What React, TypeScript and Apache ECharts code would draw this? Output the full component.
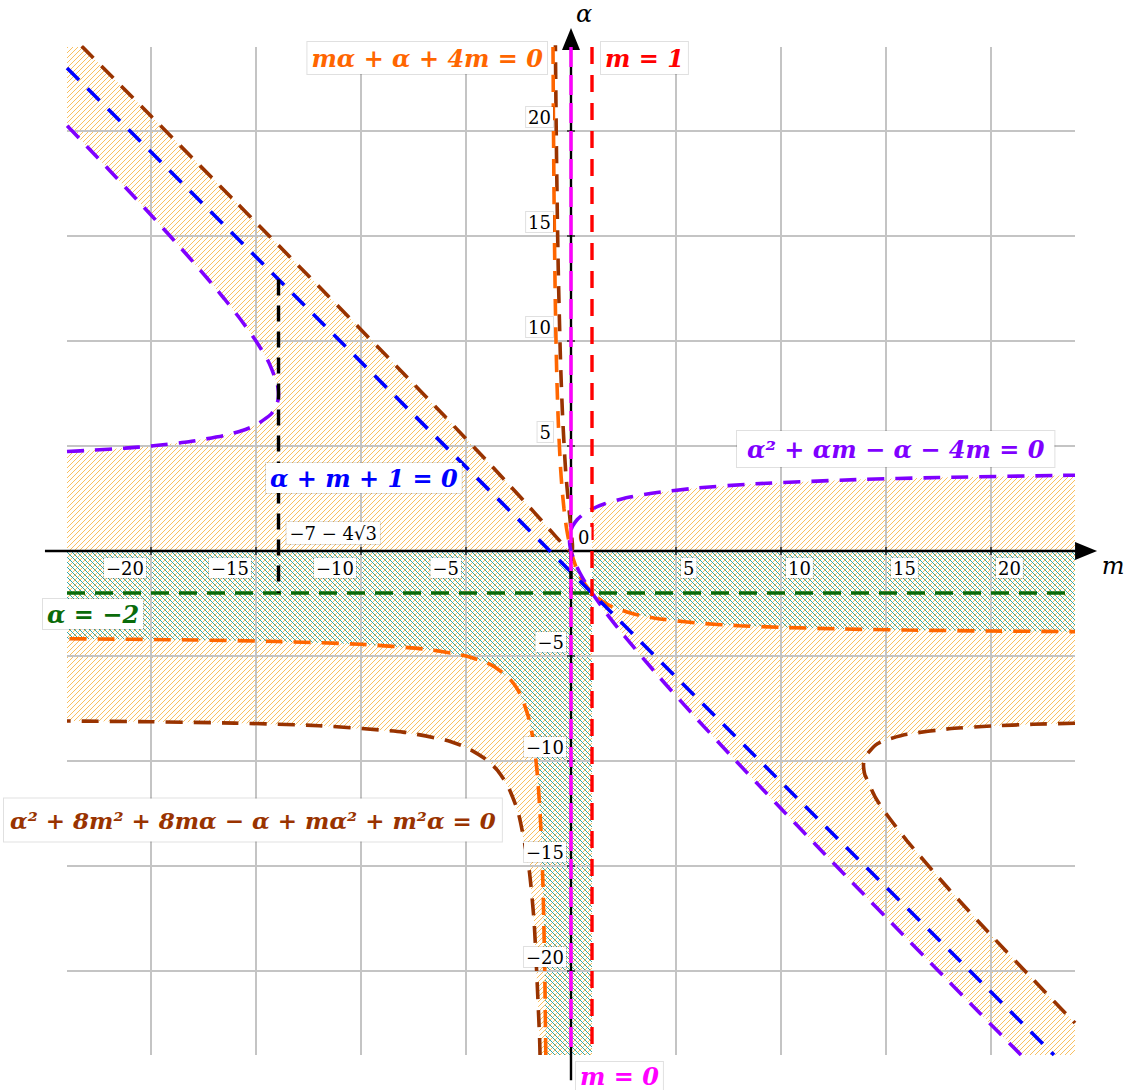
import React, { useEffect, useRef } from "react";
import * as echarts from "echarts";

// ---------------- data (m, α) ----------------
const tickValues = [-20, -15, -10, -5, 5, 10, 15, 20];
const tickLabels = ["−20", "−15", "−10", "−5", "5", "10", "15", "20"];
const plotMin = -24;
const plotMax = 24;
const xAxisExtent = [-25.05, 25.05];
const yAxisExtent = [-25.2, 24.9];

// α² + αm − α − 4m = 0
const purpleLeft = [
  [-24, 4.738], [-22.8, 4.8], [-21.23, 4.9], [-20, 5], [-18.2, 5.2], [-16.5, 5.5],
  [-15.607, 5.75], [-15, 6], [-14.3, 6.5], [-14.114, 6.75], [-14, 7], [-13.95, 7.2],
  [-13.928, 7.464], [-13.947, 7.73], [-14, 8], [-14.4, 9], [-15, 10], [-15.714, 11],
  [-16.5, 12], [-17.333, 13], [-18.2, 14], [-19.091, 15], [-20, 16], [-20.923, 17],
  [-21.857, 18], [-22.8, 19], [-23.75, 20], [-24, 20.26],
];
const purpleRightUpper = [
  [-0.0718, 0.536], [-0.0706, 0.6], [-0.0636, 0.7], [-0.05, 0.8], [0, 1], [0.0857, 1.2],
  [0.3, 1.5], [0.583, 1.75], [1, 2], [1.607, 2.25], [2.5, 2.5], [3.85, 2.75], [6, 3],
  [8.8, 3.2], [13.6, 3.4], [17.5, 3.5], [23.4, 3.6], [24, 3.608],
];
const purpleRightLower = [
  [-0.0718, 0.536], [-0.0667, 0.4], [-0.0568, 0.3], [-0.0331, 0.15], [0, 0],
  [0.1667, -0.5], [0.4, -1], [0.682, -1.5], [1, -2], [1.714, -3], [2.5, -4], [4.2, -6],
  [6, -8], [7.857, -10], [9.75, -12], [11.667, -14], [13.6, -16], [15.545, -18],
  [17.5, -20], [19.462, -22], [21.429, -24],
];

// α² + 8m² + 8mα − α + mα² + m²α = 0
const brownLeftUpper = [
  [-23.3, 24.04], [-20, 20.71], [-16, 16.66], [-12, 12.59], [-8, 8.481], [-6, 6.4],
  [-4, 4.287], [-3, 3.211], [-2, 2.117], [-1.5, 1.561], [-1, 1], [-0.5, 0.4416],
  [-0.4, 0.333], [-0.25, 0.1783], [0, 0], [0.03, 0.0096], [0.06, 0.0642], [0.0718, 0.1961],
];
const brownLoop = [
  [0.0718, 0.1961], [0.06, 0.4229], [0.03, 0.7274], [0, 1], [-0.25, 3.738], [-0.4, 6.4],
  [-0.5, 9.058], [-0.6, 13.048], [-0.65, 15.9], [-0.7, 19.7], [-0.73, 22.66],
  [-0.74, 23.8], [-0.75, 25.03],
];
const brownLowerLeft = [
  [-1.474, -24], [-1.5, -23.06], [-1.75, -17.76], [-2, -15.12], [-2.5, -12.5],
  [-3, -11.21], [-3.5, -10.45], [-4, -9.953], [-5, -9.348], [-6, -9.0], [-8, -8.624],
  [-12, -8.318], [-16, -8.195], [-20, -8.132], [-24, -8.096],
];
const brownRight = [
  [24, -8.199], [22, -8.252], [20, -8.333], [18, -8.467], [16, -8.73], [15, -9.0],
  [14.5, -9.241], [14, -9.8], [13.95, -9.969], [13.928, -10.196], [13.95, -10.446],
  [14, -10.667], [14.5, -11.743], [15, -12.5], [16, -13.8], [18, -16.11], [20, -18.29],
  [22, -20.4], [24, -22.48],
];

// mα + α + 4m = 0
const orangeUpper = [
  [-0.857, 24], [-0.833, 20], [-0.8, 16], [-0.75, 12], [-0.714, 10], [-0.667, 8],
  [-0.6, 6], [-0.5, 4], [-0.4286, 3], [-0.333, 2], [-0.2, 1], [0, 0],
];
const orangeLowerRight = [
  [0, 0], [0.25, -0.8], [0.5, -1.333], [1, -2], [1.5, -2.4], [2, -2.667], [3, -3],
  [4, -3.2], [6, -3.429], [8, -3.556], [10, -3.636], [13, -3.714], [16, -3.765],
  [20, -3.81], [24, -3.84],
];
const orangeLowerLeft = [
  [-1.2, -24], [-1.25, -20], [-1.333, -16], [-1.444, -13], [-1.571, -11], [-1.667, -10],
  [-1.8, -9], [-2, -8], [-2.333, -7], [-2.6, -6.5], [-3, -6], [-3.667, -5.5],
  [-4, -5.333], [-5, -5], [-7, -4.667], [-10, -4.444], [-14, -4.308], [-18, -4.235],
  [-24, -4.174],
];

const blueLine = [[-24, 23], [23, -24]];
const greenLine = [[-24, -2], [24, -2]];
const redLine = [[1, 24], [1, -24]];
const magentaLine = [[0, 24], [0, -24]];
const blackLine = [[-13.928, 12.928], [-13.928, -2]];
const blackLine2 = [[0, 0], [0, -2]];

// ---------------- styles ----------------
const ORANGE = "#ff6600";
const RED = "#ff0000";
const MAGENTA = "#ff00ff";
const PURPLE = "#7f00ff";
const BLUE = "#0000ff";
const GREEN = "#0a6b0a";
const BROWN = "#993300";
const GRID = "#c4c4c4";
const LABEL_FONT = 'italic bold 24px "DejaVu Serif"';
const TICK_FONT = '18px "DejaVu Serif"';

function hatch(color: string, dir: "ne" | "nw", size = 5, w = 1) {
  const s = size;
  const d =
    dir === "ne"
      ? `M0,${s} L${s},0 M-1,1 L1,-1 M${s - 1},${s + 1} L${s + 1},${s - 1}`
      : `M0,0 L${s},${s} M-1,${s - 1} L1,${s + 1} M${s - 1},-1 L${s + 1},1`;
  const svg = `<svg xmlns="http://www.w3.org/2000/svg" width="${s}" height="${s}"><path d="${d}" stroke="${color}" stroke-width="${w}" fill="none" shape-rendering="crispEdges"/></svg>`;
  return {
    image: "data:image/svg+xml;charset=utf-8," + encodeURIComponent(svg),
    repeat: "repeat",
    imageWidth: s,
    imageHeight: s,
  };
}

// regions built from the curves
const regionO1 = [
  [plotMin, brownLowerLeft[brownLowerLeft.length - 1][1]],
  ...purpleLeft,
  [plotMin, plotMax + 1],
  ...brownLeftUpper.filter((p) => p[0] <= 0),
  ...purpleRightLower.filter((p) => p[0] > 0 && p[0] <= 1),
  [1, plotMin],
  ...brownLowerLeft,
];
const regionO2 = [
  ...purpleRightUpper.filter((p) => p[0] >= 1),
  ...brownRight,
  [plotMax, plotMin],
  ...purpleRightLower.filter((p) => p[0] >= 1).reverse(),
];
const regionT1 = [
  [plotMin, 0],
  [0, 0],
  ...orangeLowerRight.filter((p) => p[0] > 0 && p[0] <= 1),
  [1, plotMin],
  ...orangeLowerLeft,
];
const regionT2 = [...orangeLowerRight.filter((p) => p[0] >= 1), [plotMax, 0], [1, 0]];

const curveLabels = [
  { text: "mα + α + 4m = 0", color: ORANGE, x: 547, y: 58, align: "right", padding: [4, 4] },
  { text: "m = 1", color: RED, x: 601, y: 58, align: "left", padding: [4, 4] },
  { text: "m = 0", color: MAGENTA, x: 576, y: 1076, align: "left", padding: [2, 4] },
  { text: "α² + αm − α − 4m = 0", color: PURPLE, x: 737, y: 449, align: "left", padding: [6, 10] },
  { text: "α + m + 1 = 0", color: BLUE, x: 266, y: 478, align: "left", padding: [3, 4] },
  { text: "α = −2", color: GREEN, x: 43, y: 614, align: "left", padding: [3, 4] },
  { text: "α² + 8m² + 8mα − α + mα² + m²α = 0", color: BROWN, x: 4, y: 820, align: "left", padding: [10, 6] },
];

function dashed(data: number[][], color: string, dash = [17, 11], width = 3.6, smooth: any = 0.2) {
  return {
    type: "line",
    data,
    showSymbol: false,
    symbol: "none",
    smooth,
    silent: true,
    clip: true,
    z: 6,
    lineStyle: { color, width, type: dash, cap: "butt" },
  };
}

export default function App() {
  const ref = useRef<HTMLDivElement>(null);
  useEffect(() => {
    if (!ref.current) return;
    const chart = echarts.init(ref.current, null, { renderer: "svg" });
    const orangeHatch = hatch("#f9c060", "ne");
    const tealHatch = hatch("#35a8a4", "nw");

    const option: any = {
      animation: false,
      backgroundColor: "#ffffff",
      grid: { left: 67, top: 47, width: 1008, height: 1008 },
      xAxis: { type: "value", min: plotMin, max: plotMax, show: false },
      yAxis: { type: "value", min: plotMin, max: plotMax, show: false },
      series: [
        {
          type: "custom",
          z: 1,
          clip: true,
          silent: true,
          data: [[0, 0]],
          renderItem: (_p: any, api: any) => ({
            type: "group",
            children: [regionO1, regionO2].map((r) => ({
              type: "polygon",
              shape: { points: r.map((p) => api.coord(p)) },
              style: { fill: orangeHatch, stroke: null },
            })),
          }),
        },
        {
          type: "custom",
          z: 2,
          clip: true,
          silent: true,
          data: [[0, 0]],
          renderItem: (_p: any, api: any) => ({
            type: "group",
            children: [regionT1, regionT2].map((r) => ({
              type: "polygon",
              shape: { points: r.map((p) => api.coord(p)) },
              style: { fill: tealHatch, stroke: null },
            })),
          }),
        },
        {
          // grid lines
          type: "custom",
          z: 3,
          silent: true,
          data: [[0, 0]],
          renderItem: (_p: any, api: any) => {
            const children: any[] = [];
            tickValues.forEach((v) => {
              const a = api.coord([v, plotMin]);
              const b = api.coord([v, plotMax]);
              children.push({ type: "line", shape: { x1: a[0], y1: a[1], x2: b[0], y2: b[1] }, style: { stroke: GRID, lineWidth: 2 } });
              const c = api.coord([plotMin, v]);
              const d = api.coord([plotMax, v]);
              children.push({ type: "line", shape: { x1: c[0], y1: c[1], x2: d[0], y2: d[1] }, style: { stroke: GRID, lineWidth: 2 } });
            });
            return { type: "group", children };
          },
        },
        {
          // axes with arrows and ticks
          type: "custom",
          z: 4,
          silent: true,
          clip: false,
          data: [[0, 0]],
          renderItem: (_p: any, api: any) => {
            const children: any[] = [];
            const xs = api.coord([xAxisExtent[0], 0]);
            const xe = api.coord([xAxisExtent[1], 0]);
            const ys = api.coord([0, yAxisExtent[0]]);
            const ye = api.coord([0, yAxisExtent[1]]);
            children.push({ type: "line", shape: { x1: xs[0], y1: xs[1], x2: xe[0] - 16, y2: xe[1] }, style: { stroke: "#000", lineWidth: 2.4 } });
            children.push({ type: "polygon", shape: { points: [[xe[0], xe[1]], [xe[0] - 22, xe[1] - 9], [xe[0] - 22, xe[1] + 9]] }, style: { fill: "#000" } });
            children.push({ type: "line", shape: { x1: ys[0], y1: ys[1], x2: ye[0], y2: ye[1] + 16 }, style: { stroke: "#000", lineWidth: 2.4 } });
            children.push({ type: "polygon", shape: { points: [[ye[0], ye[1]], [ye[0] - 9, ye[1] + 22], [ye[0] + 9, ye[1] + 22]] }, style: { fill: "#000" } });
            tickValues.forEach((v) => {
              const p = api.coord([v, 0]);
              children.push({ type: "line", shape: { x1: p[0], y1: p[1] - 4, x2: p[0], y2: p[1] + 4 }, style: { stroke: "#000", lineWidth: 1.2 } });
              const q = api.coord([0, v]);
              children.push({ type: "line", shape: { x1: q[0] - 4, y1: q[1], x2: q[0] + 4, y2: q[1] }, style: { stroke: "#000", lineWidth: 1.2 } });
            });
            return { type: "group", children };
          },
        },
        dashed(greenLine, GREEN, [18, 10], 3.6, false),
        dashed(brownLowerLeft, BROWN),
        dashed(brownRight, BROWN),
        dashed([...brownLeftUpper, ...brownLoop.slice(1)], BROWN),
        dashed(orangeLowerLeft, ORANGE),
        dashed([...orangeUpper, ...orangeLowerRight.slice(1)], ORANGE),
        dashed(purpleLeft, PURPLE),
        dashed([...purpleRightLower.slice().reverse(), ...purpleRightUpper.slice(1)], PURPLE),
        dashed(blueLine, BLUE, [17, 12], 3.6, false),
        dashed(blackLine, "#000", [16, 10], 3.4, false),
        dashed(blackLine2, "#000", [10, 8], 3.4, false),
        dashed(redLine, RED, [17, 11], 3.4, false),
        dashed(magentaLine, MAGENTA, [20, 8], 3.4, false),
        {
          // texts
          type: "custom",
          z: 10,
          silent: true,
          clip: false,
          data: [[0, 0]],
          renderItem: (_p: any, api: any) => {
            const children: any[] = [];
            const box = { backgroundColor: "#fff", borderColor: "rgba(0,0,0,0.12)", borderWidth: 1 };
            tickValues.forEach((v, i) => {
              const p = api.coord([v, 0]);
              children.push({
                type: "text",
                style: {
                  text: tickLabels[i], x: v < 0 ? p[0] - 5 : p[0] + 5, y: p[1] + 17,
                  align: v < 0 ? "right" : "left", verticalAlign: "middle",
                  font: TICK_FONT, fill: "#000", padding: [1, 2], ...box,
                },
              });
              const q = api.coord([0, v]);
              children.push({
                type: "text",
                style: {
                  text: tickLabels[i], x: v < 0 ? q[0] - 5 : q[0] - 18, y: q[1] - 14,
                  align: "right", verticalAlign: "middle",
                  font: TICK_FONT, fill: "#000", padding: [1, 2], ...box,
                },
              });
            });
            const o = api.coord([0, 0]);
            children.push({ type: "text", style: { text: "0", x: o[0] + 5, y: o[1] - 14, align: "left", verticalAlign: "middle", font: TICK_FONT, fill: "#000", padding: [1, 2], backgroundColor: "#fff" } });
            const xe = api.coord([xAxisExtent[1], 0]);
            children.push({ type: "text", style: { text: "m", x: xe[0] + 16, y: xe[1] + 15, align: "center", verticalAlign: "middle", font: 'italic 24px "DejaVu Serif"', fill: "#000" } });
            const ye = api.coord([0, yAxisExtent[1]]);
            children.push({ type: "text", style: { text: "α", x: ye[0] + 13, y: ye[1] - 14, align: "center", verticalAlign: "middle", font: 'italic 24px "DejaVu Serif"', fill: "#000" } });
            const c = api.coord([blackLine[0][0], 0]);
            children.push({ type: "text", style: { text: "−7 − 4√3", x: c[0] + 8, y: c[1] - 18, align: "left", verticalAlign: "middle", font: TICK_FONT, fill: "#000", padding: [2, 3], ...box } });
            curveLabels.forEach((l) => {
              children.push({
                type: "text",
                style: {
                  text: l.text, x: l.x, y: l.y, align: l.align, verticalAlign: "middle",
                  font: l.color === BROWN ? 'italic bold 23px "DejaVu Serif"' : LABEL_FONT,
                  fill: l.color, padding: l.padding, ...box,
                },
              });
            });
            return { type: "group", children };
          },
        },
      ],
    };
    chart.setOption(option);
    return () => chart.dispose();
  }, []);
  return <div ref={ref} style={{ position: "absolute", left: 0, top: 0, width: 1134, height: 1090 }} />;
}
